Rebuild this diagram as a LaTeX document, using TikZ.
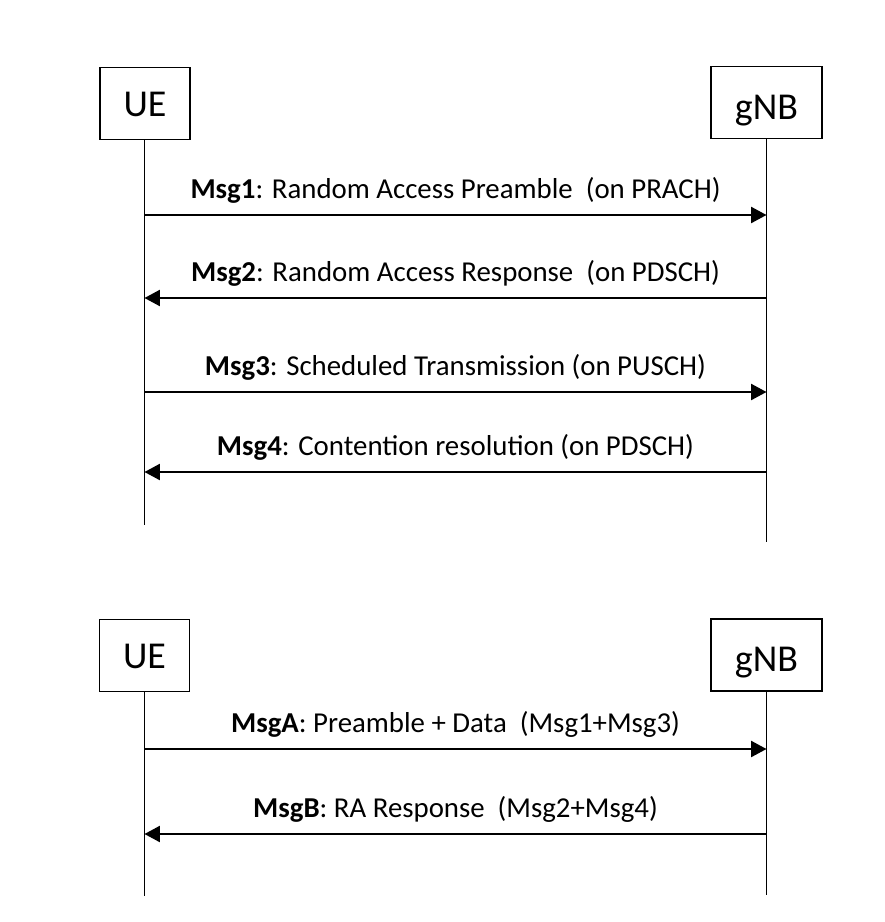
\documentclass[tikz,border=0pt]{standalone}
\usepackage{fontspec}
\setmainfont{Carlito}
\usetikzlibrary{arrows.meta}
\begin{document}
\begin{tikzpicture}[x=0.025cm,y=-0.025cm,
  entity/.style={draw, line width=1.3pt, inner sep=0pt, minimum height=1.8cm, text height=21pt, text depth=2pt, font=\fontsize{27}{32}\selectfont},
  base/.style={text height=24pt, text depth=0pt},
  life/.style={line width=1.3pt},
  msg/.style={-{Triangle[length=11pt,width=11.5pt]}, line width=1.3pt},
  lbl/.style={midway, anchor=base, yshift=12pt, inner sep=0pt, font=\fontsize{20.5}{24}\selectfont}]
\useasboundingbox (0,0) rectangle (884,922);
% four-step procedure
\node [entity, minimum width=2.25cm] (ue1) at (145,103.5) {UE};
\node [entity, base, minimum width=2.775cm] (gnb1) at (766.5,102.5) {gNB};
\coordinate (ue1end) at (144.5,525);
\coordinate (gnb1end) at (766.5,542);
\coordinate (u1) at (144.5,215);
\coordinate (g1) at (766.5,215);
\coordinate (u2) at (144.5,298);
\coordinate (g2) at (766.5,298);
\coordinate (u3) at (144.5,392);
\coordinate (g3) at (766.5,392);
\coordinate (u4) at (144.5,472);
\coordinate (g4) at (766.5,472);
\draw [life] (ue1.south -| ue1end) -- (ue1end);
\draw [life] (gnb1.south -| gnb1end) -- (gnb1end);
\draw [msg] (u1) -- (g1) node [lbl] {\textbf{Msg1}: Random Access Preamble\ \ (on PRACH)};
\draw [msg] (g2) -- (u2) node [lbl] {\textbf{Msg2}: Random Access Response\ \ (on PDSCH)};
\draw [msg] (u3) -- (g3) node [lbl] {\textbf{Msg3}: Scheduled Transmission (on PUSCH)};
\draw [msg] (g4) -- (u4) node [lbl] {\textbf{Msg4}: Contention resolution (on PDSCH)};
% two-step procedure
\node [entity, minimum width=2.25cm] (ue2) at (144.5,655.5) {UE};
\node [entity, base, minimum width=2.775cm] (gnb2) at (766.5,655) {gNB};
\coordinate (ue2end) at (144.5,896);
\coordinate (gnb2end) at (766.5,895);
\coordinate (ua) at (144.5,749);
\coordinate (ga) at (766.5,749);
\coordinate (ub) at (144.5,834);
\coordinate (gb) at (766.5,834);
\draw [life] (ue2.south -| ue2end) -- (ue2end);
\draw [life] (gnb2.south -| gnb2end) -- (gnb2end);
\draw [msg] (ua) -- (ga) node [lbl] {\textbf{MsgA}: Preamble + Data\ \ (Msg1+Msg3)};
\draw [msg] (gb) -- (ub) node [lbl] {\textbf{MsgB}: RA Response\ \ (Msg2+Msg4)};
\end{tikzpicture}
\end{document}
